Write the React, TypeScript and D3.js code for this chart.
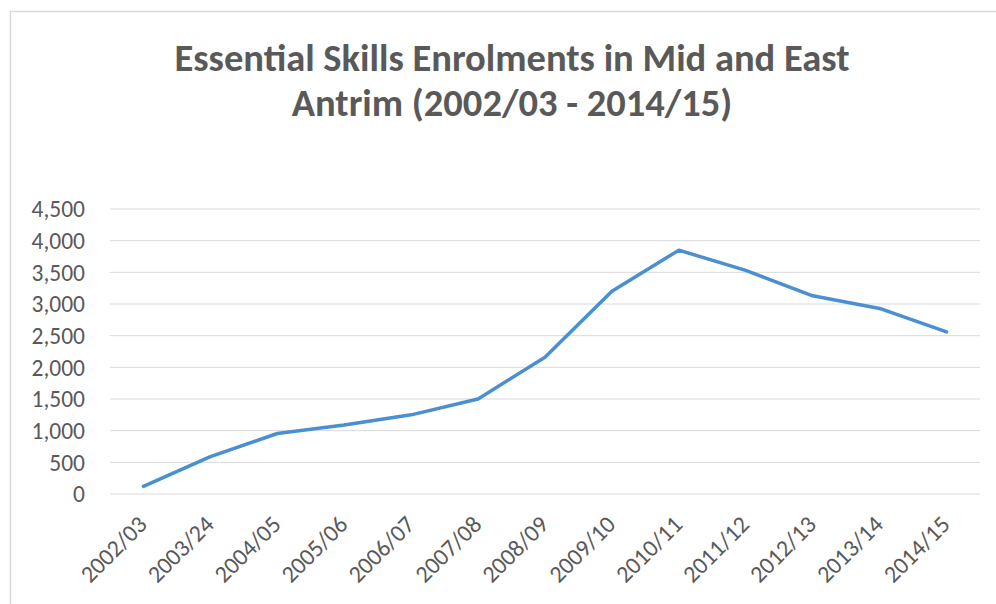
import React from "react";
import * as d3 from "d3";

const categories = ["2002/03","2003/24","2004/05","2005/06","2006/07","2007/08","2008/09","2009/10","2010/11","2011/12","2012/13","2013/14","2014/15"];
const enrolments = [120, 590, 955, 1090, 1250, 1500, 2160, 3200, 3850, 3530, 3130, 2930, 2560];
const yTicks = [0, 500, 1000, 1500, 2000, 2500, 3000, 3500, 4000, 4500];
const titleLines = ["Essential Skills Enrolments in Mid and East", "Antrim (2002/03 - 2014/15)"];

const W = 996, H = 604;
const left = 110, right = 980, top = 209, bottom = 494;
const FONT = "Carlito, Lato, 'Open Sans', sans-serif";
const GREY = "#595959";

export default function App() {
  const x = d3.scaleBand<string>().domain(categories).range([left, right]);
  const y = d3.scaleLinear().domain([0, 4500]).range([bottom, top]);
  const fmt = d3.format(",");
  const line = d3.line<number>()
    .x((_, i) => (x(categories[i]) as number) + x.bandwidth() / 2)
    .y(d => y(d));
  return (
    <svg width={W} height={H} style={{ position: "absolute", left: 0, top: 0, background: "#fff" }}>
      <rect x={0} y={0} width={W} height={H} fill="#fff" />
      <rect x={10.5} y={11.5} width={W} height={H} fill="none" stroke="#d9d9d9" strokeWidth={1.5} />
      {titleLines.map((t, i) => (
        <text key={i} x={512} y={71 + i * 45} textAnchor="middle" fontFamily={FONT} fontWeight={700}
          fontSize={38.5} fill={GREY}>{t}</text>
      ))}
      {yTicks.map(v => (
        <g key={v}>
          <line x1={left} x2={right} y1={y(v)} y2={y(v)} stroke="#d9d9d9" strokeWidth={1} />
          <text x={85} y={y(v)} dy="0.35em" textAnchor="end" fontFamily={FONT} fontSize={23.5} fill={GREY}>{fmt(v)}</text>
        </g>
      ))}
      {categories.map(c => {
        const cx = (x(c) as number) + x.bandwidth() / 2;
        return (
          <text key={c} transform={`translate(${cx - 1},${520}) rotate(-45)`} textAnchor="end" dy="0.35em"
            fontFamily={FONT} fontSize={24} fill={GREY}>{c}</text>
        );
      })}
      <path d={line(enrolments) as string} fill="none" stroke="#4a8fd0" strokeWidth={3.5} strokeLinejoin="round" strokeLinecap="round" />
    </svg>
  );
}
